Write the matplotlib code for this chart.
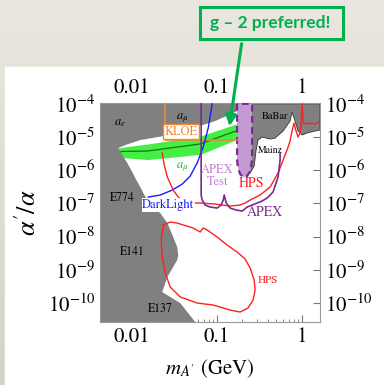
import matplotlib.pyplot as plt
import numpy as np
from matplotlib.patches import Rectangle, FancyArrowPatch

plt.rcParams['mathtext.fontset'] = 'stix'
plt.rcParams['font.family'] = 'STIXGeneral'

# excluded region: a_e, a_mu, E774, E141, E137 (mass in GeV, alpha'/alpha)
left_m = [0.0042, 0.173, 0.173, 0.155, 0.0955, 0.0526, 0.0234, 0.01253, 0.00834, 0.0069,
          0.00769, 0.00881, 0.01008, 0.01124, 0.01253, 0.01359, 0.01514, 0.01734, 0.0215,
          0.0261, 0.0306, 0.0341, 0.0351, 0.0341, 0.0261, 0.0227, 0.037, 0.0556, 0.0042]
left_a = [1e-4, 1e-4, 6.07e-5, 5.28e-5, 3.03e-5, 1.87e-5, 1.07e-5, 8.12e-6, 5.74e-6, 4.67e-6,
          2.87e-6, 1.65e-6, 8.83e-7, 5.07e-7, 3.12e-7, 2.06e-7, 1.27e-7, 7.79e-8, 5.14e-8,
          2.57e-8, 9.73e-9, 4.87e-9, 2.79e-9, 1.97e-9, 6.07e-10, 2.14e-10, 1.0e-10, 2.68e-11, 2.68e-11]

# Mainz + BaBar excluded region
babar_m = [0.204, 0.204, 0.215, 0.233, 0.247, 0.275, 0.290, 0.306, 0.341, 0.424, 0.485, 0.603,
           0.728, 0.769, 0.834, 0.904, 1.01, 1.15, 1.43, 1.64, 1.64]
babar_a = [1e-4, 4.06e-6, 1.44e-6, 8.83e-7, 8.24e-7, 1.34e-6, 4.06e-6, 8.12e-6, 1.0e-5, 8.71e-6,
           9.33e-6, 1.52e-5, 3.03e-5, 5.66e-5, 3.03e-5, 1.52e-5, 1.15e-5, 1.32e-5, 1.52e-5,
           1.63e-5, 1e-4]

# APEX test run region
apext_m = [0.173, 0.173, 0.178, 0.188, 0.204, 0.227, 0.247, 0.260, 0.260]
apext_a = [1e-4, 2.03e-6, 1.16e-6, 7.69e-7, 6.24e-7, 6.69e-7, 9.46e-7, 2.03e-6, 1e-4]

# g-2 preferred band
band_m = [0.0042, 0.0069, 0.0079, 0.0151, 0.0637, 0.155, 0.260]
band_hi = [4.06e-6, 4.67e-6, 5.0e-6, 6.15e-6, 1.07e-5, 2.30e-5, 3.74e-5]
band_lo = [2.2e-6, 2.3e-6, 2.4e-6, 2.1e-6, 3.0e-6, 7.6e-6, 1.23e-5]
band_mid = [3.30e-6, 3.53e-6, 3.70e-6, 3.79e-6, 6.20e-6, 1.42e-5, 2.14e-5]

# KLOE
kloe_m = [0.0247, 0.0247, 0.173]
kloe_a = [1e-4, 8.12e-6, 8.12e-6]

# DarkLight reach
dl_m = [0.01556, 0.0215, 0.0298, 0.0391, 0.0485, 0.0586, 0.069, 0.0791, 0.0881]
dl_a = [1.56e-7, 1.79e-7, 2.53e-7, 3.84e-7, 6.69e-7, 1.65e-6, 5.0e-6, 1.87e-5, 1e-4]

# APEX reach
apex_m = [0.0653, 0.0653, 0.0671, 0.0728, 0.0834, 0.101, 0.112, 0.119, 0.122, 0.129, 0.143,
          0.169, 0.199, 0.227, 0.260, 0.298, 0.341, 0.391, 0.459, 0.526, 0.556, 0.556]
apex_a = [1e-4, 1.79e-7, 1.27e-7, 8.95e-8, 7.79e-8, 7.27e-8, 8.95e-8, 1.27e-7, 1.79e-7, 1.03e-7,
          7.27e-8, 6.33e-8, 5.90e-8, 7.79e-8, 8.95e-8, 1.03e-7, 1.18e-7, 1.46e-7, 2.21e-7,
          6.24e-7, 2.03e-6, 3.30e-6]

# HPS reach, prompt region
hps1_m = [0.0227, 0.024, 0.0261, 0.0306, 0.0351, 0.0402, 0.0485, 0.0637, 0.0955, 0.143, 0.188,
          0.215, 0.247, 0.323, 0.424, 0.526, 0.603, 0.671, 0.728, 0.769, 0.811, 0.857, 0.904,
          0.955, 0.982, 1.01, 1.04, 1.15, 1.25, 1.43, 1.64]
hps1_a = [3.30e-6, 1.44e-6, 6.24e-7, 2.53e-7, 1.56e-7, 1.18e-7, 1.03e-7, 1.03e-7, 9.59e-8,
          8.35e-8, 8.95e-8, 1.03e-7, 1.27e-7, 1.79e-7, 3.12e-7, 8.24e-7, 2.03e-6, 4.06e-6,
          7.58e-6, 1.52e-5, 2.64e-5, 1.52e-5, 1.0e-5, 1.32e-5, 2.30e-5, 1e-4, 2.64e-5, 2.46e-5,
          2.64e-5, 2.46e-5, 3.03e-5]

# HPS reach, displaced vertex region
hps2_m = [0.0234, 0.0282, 0.0341, 0.0402, 0.0526, 0.0637, 0.069, 0.0769, 0.101, 0.132, 0.173,
          0.215, 0.247, 0.275, 0.282, 0.267, 0.233, 0.188, 0.143, 0.0904, 0.0586, 0.037,
          0.0282, 0.0247, 0.0227, 0.0221, 0.0234]
hps2_a = [2.24e-8, 2.75e-8, 2.57e-8, 2.24e-8, 1.82e-8, 1.38e-8, 1.82e-8, 1.58e-8, 9.73e-9,
          5.59e-9, 3.44e-9, 2.12e-9, 1.13e-9, 4.93e-10, 2.46e-10, 1.23e-10, 7.07e-11, 5.36e-11,
          6.15e-11, 8.7e-11, 1.0e-10, 1.52e-10, 3.03e-10, 8.01e-10, 2.43e-9, 7.91e-9, 2.24e-8]

grey = '#808080'
purple = '#7a2b8f'
green = '#00b050'

fig = plt.figure(figsize=(3.84, 3.85), dpi=100)

# slide background
bg = fig.add_axes([0, 0, 1, 1], zorder=-10)
grad = np.linspace(0, 1, 100)[:, None]
top_c = np.array([233, 231, 223]) / 255
bot_c = np.array([214, 211, 197]) / 255
img = top_c[None, None, :] * (1 - grad[:, :, None]) + bot_c[None, None, :] * grad[:, :, None]
bg.imshow(img, extent=[0, 384, 385, 0], aspect='auto')
bg.add_patch(Rectangle((5, 67), 379, 318, color='white'))
bg.set_xlim(0, 384)
bg.set_ylim(385, 0)
bg.axis('off')

ax = fig.add_axes([0.2604, 0.1636, 0.5729, 0.5688])
ax.set_xscale('log')
ax.set_yscale('log')

ax.fill_between(band_m, band_lo, band_hi, color='#44ee44', lw=0, zorder=1)
ax.plot(band_m, band_mid, color='#117711', lw=0.9, zorder=1.5)
ax.fill(left_m, left_a, color=grey, lw=0, zorder=2)
ax.fill(babar_m, babar_a, fc=grey, ec='#333333', lw=0.6, zorder=2)
ax.fill(apext_m, apext_a, fc='#c49ad2', ec=purple, lw=1.6, ls=(0, (3, 2)), zorder=3)

ax.plot(kloe_m, kloe_a, color='#f08a30', lw=1.2, zorder=4)
ax.plot(dl_m, dl_a, color='#1a1aff', lw=1.0, zorder=4)
ax.plot(hps1_m, hps1_a, color='#ff2020', lw=1.0, zorder=4)
ax.plot(hps2_m, hps2_a, color='#ff2020', lw=1.0, zorder=4)
ax.plot(apex_m, apex_a, color=purple, lw=1.2, zorder=4)

ax.text(0.00728, 2.64e-5, '$a_e$', fontsize=9, ha='center', va='center', zorder=5)
ax.text(0.0391, 3.74e-5, r'$a_\mu$', fontsize=9, ha='center', va='center', zorder=5)
ax.text(0.0391, 1.25e-6, r'$a_\mu$', fontsize=9, color='#33aa33', ha='center', va='center', zorder=5)
ax.text(0.038, 1.45e-5, 'KLOE', fontsize=9, color='#f08a30', ha='center', va='center', zorder=5,
        bbox=dict(fc='white', ec='#f08a30', lw=1.0, pad=1.2))
ax.text(0.0077, 1.46e-7, 'E774', fontsize=8.5, ha='center', va='center', zorder=5)
ax.text(0.0101, 3.44e-9, 'E141', fontsize=8.5, ha='center', va='center', zorder=5)
ax.text(0.0215, 6.59e-11, 'E137', fontsize=8.5, ha='center', va='center', zorder=5)
ax.text(0.01324, 8.95e-8, 'DarkLight', fontsize=9, color='#1a1aff', ha='left', va='center', zorder=5,
        bbox=dict(fc='white', ec='none', pad=0.5))
ax.text(0.101, 6.69e-7, 'APEX\nTest', fontsize=9, color='#c07fd0', ha='center', va='center',
        linespacing=0.95, zorder=5)
ax.text(0.253, 4.11e-7, 'HPS', fontsize=10, color='#ff2020', ha='center', va='center', zorder=5)
ax.text(0.424, 4.06e-6, 'Mainz', fontsize=7, ha='center', va='center', zorder=5)
ax.text(0.485, 4.30e-5, 'BaBar', fontsize=7.5, ha='center', va='center', zorder=5)
ax.text(0.37, 5.51e-8, 'APEX', fontsize=10, color=purple, ha='center', va='center', zorder=5)
ax.text(0.40, 4.93e-10, 'HPS', fontsize=8, color='#ff2020', ha='center', va='center', zorder=5)

ax.set_xlim(0.0042, 1.64)
ax.set_ylim(2.68e-11, 1.06e-4)
ax.set_xticks([0.01, 0.1, 1], ['0.01', '0.1', '1'])
ax.set_yticks([1e-4, 1e-5, 1e-6, 1e-7, 1e-8, 1e-9, 1e-10])
ax.tick_params(which='both', direction='in', top=True, right=True, labeltop=True,
               labelright=True, labelsize=15, color='#777777')
ax.tick_params(which='major', length=5)
ax.tick_params(which='minor', length=2.5)
ax.xaxis.set_minor_formatter(plt.NullFormatter())
for s in ax.spines.values():
    s.set_color('#999999')
ax.set_xlabel("$m_{A'}$ (GeV)", fontsize=15, labelpad=8)
ax.set_ylabel(r"$\alpha'/\alpha$", fontsize=19, labelpad=4)

# callout
ov = fig.add_axes([0, 0, 1, 1], zorder=10)
ov.set_xlim(0, 384)
ov.set_ylim(385, 0)
ov.axis('off')
ov.add_patch(Rectangle((200, 7), 143, 32, fc='none', ec=green, lw=2.2))
ov.text(270, 23, 'g \u2013 2 preferred!', color=green, fontsize=12.5, fontweight='bold',
        family='Lato', ha='center', va='center')
ov.add_patch(FancyArrowPatch((242, 41), (229, 129), arrowstyle='-|>', mutation_scale=16,
                             color=green, lw=2.2))

fig.savefig('out.png', dpi=100)
